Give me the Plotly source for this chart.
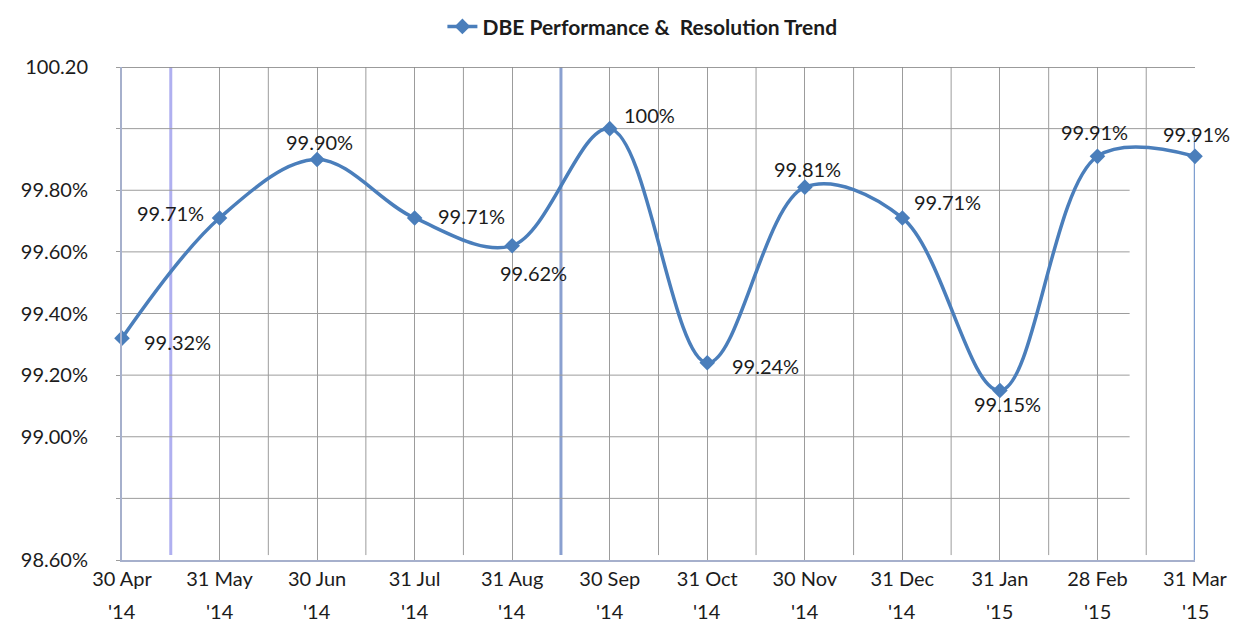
import plotly.graph_objects as go

months = ["30 Apr", "31 May", "30 Jun", "31 Jul", "31 Aug", "30 Sep",
          "31 Oct", "30 Nov", "31 Dec", "31 Jan", "28 Feb", "31 Mar"]
years = ["'14", "'14", "'14", "'14", "'14", "'14", "'14", "'14", "'14", "'15", "'15", "'15"]
values = [99.32, 99.71, 99.90, 99.71, 99.62, 100.00, 99.24, 99.81, 99.71, 99.15, 99.91, 99.91]
point_labels = ["99.32%", "99.71%", "99.90%", "99.71%", "99.62%", "100%",
                "99.24%", "99.81%", "99.71%", "99.15%", "99.91%", "99.91%"]
y_tickvals = [98.6, 98.8, 99.0, 99.2, 99.4, 99.6, 99.8, 100.0, 100.2]
y_ticktext = ["98.60%", "", "99.00%", "99.20%", "99.40%", "99.60%", "99.80%", "", "100.20"]
series_name = "DBE Performance &\u00a0\u00a0Resolution Trend"

# label placement styles: (xanchor, xshift px, yshift px)
label_styles = [("left", 20, -4), ("right", -14, 5), ("center", 2, 17), ("left", 21, 2),
                ("center", 21, -27), ("left", 12, 14), ("left", 23, -3), ("center", 3, 18),
                ("left", 10, 16), ("center", 8, -13), ("center", -3, 24), ("center", 1, 22)]

x_idx = list(range(len(months)))
line_color = "#4a7ebb"
grid_color = "#9c9c9c"
font_family = "Lato"
text_color = "#1c1c1c"
fsize = 20

# special coloured half-step verticals seen in the reference
special_verticals = {0.5: ("#b0b0f0", 3), 4.5: ("#8aa0d0", 3)}

fig = go.Figure()
fig.add_trace(go.Scatter(
    x=x_idx, y=values, name=series_name, mode="lines+markers",
    line=dict(color=line_color, width=3.5, shape="spline", smoothing=1.0),
    marker=dict(symbol="diamond", size=12, color=line_color),
    cliponaxis=False,
))

for xi, v, lab, (xa, xs, ys) in zip(x_idx, values, point_labels, label_styles):
    fig.add_annotation(x=xi, y=v, text=lab, showarrow=False, xanchor=xa, yanchor="middle",
                       xshift=xs, yshift=ys,
                       font=dict(family=font_family, size=fsize, color=text_color))

for xi, yr in zip(x_idx, years):
    fig.add_annotation(x=xi, y=-0.104, yref="paper", text=yr, showarrow=False,
                       xanchor="center", yanchor="middle",
                       font=dict(family=font_family, size=fsize, color=text_color))

# horizontal grid lines (lower ones stop short of the right edge, as in the reference)
for yv in y_tickvals[1:]:
    x_end = 11 if yv >= 100.0 else 10.33
    fig.add_shape(type="line", xref="x", yref="y", x0=0, x1=x_end, y0=yv, y1=yv,
                  line=dict(color=grid_color, width=1), layer="between")

# half-step vertical grid lines
for i in x_idx[:-1]:
    pos = i + 0.5
    col, w = special_verticals.get(pos, (grid_color, 1))
    fig.add_shape(type="line", xref="x", yref="paper", x0=pos, x1=pos, y0=0.01, y1=1,
                  line=dict(color=col, width=w), layer="between")

fig.add_shape(type="line", xref="x", yref="paper", x0=11, x1=11, y0=0, y1=0.87,
              line=dict(color="#7f9fd0", width=2.5), layer="between")
fig.add_shape(type="line", xref="x", yref="y", x0=0, x1=11, y0=100.2, y1=100.2,
              line=dict(color="#8a8a8a", width=1.5), layer="between")

fig.update_layout(
    width=1236, height=625,
    margin=dict(l=122, r=41, t=67, b=65),
    paper_bgcolor="white", plot_bgcolor="white",
    font=dict(family=font_family, size=fsize, color=text_color),
    showlegend=True,
    legend=dict(orientation="h", x=0.485, xanchor="center", y=0.99, yanchor="top",
                yref="container", bgcolor="rgba(0,0,0,0)",
                font=dict(family=font_family, size=21, color=text_color, weight="bold")),
    xaxis=dict(range=[0, 11], tickvals=x_idx, ticktext=months, showgrid=True,
               gridcolor=grid_color, gridwidth=1, zeroline=False, automargin=False,
               showline=True, linecolor="#a6b0cc", linewidth=2,
               tickfont=dict(family=font_family, size=fsize, color=text_color),
               ticks="", fixedrange=True),
    yaxis=dict(range=[98.6, 100.2], tickvals=y_tickvals, ticktext=y_ticktext, showgrid=False,
               zeroline=False, automargin=False,
               showline=True, linecolor="#a6b0cc", linewidth=2,
               ticks="outside", ticklen=4, tickcolor=grid_color,
               ticklabelstandoff=24,
               tickfont=dict(family=font_family, size=fsize, color=text_color)),
)
fig.write_html("out.html")
